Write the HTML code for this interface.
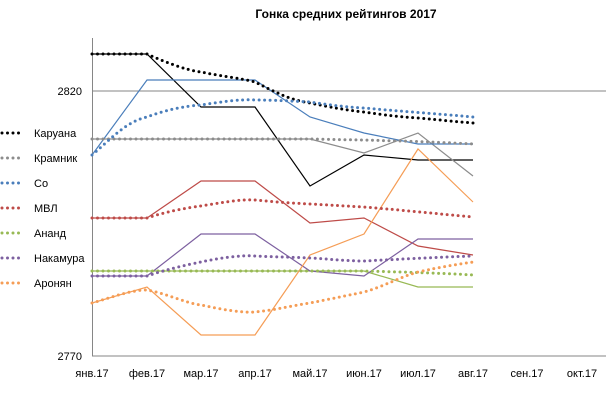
<!DOCTYPE html>
<html><head><meta charset="utf-8"><style>
body{margin:0;background:#fff;}
svg{display:block;font-family:"Liberation Sans",sans-serif;}
</style></head><body>
<svg width="606" height="400" viewBox="0 0 606 400">
<text x="346" y="18" text-anchor="middle" font-size="12" font-weight="bold" fill="#000">Гонка средних рейтингов 2017</text>
<line x1="92" y1="91" x2="606" y2="91" stroke="#868686" stroke-width="1"/>
<line x1="92" y1="356" x2="606" y2="356" stroke="#868686" stroke-width="1"/>
<line x1="92.5" y1="38" x2="92.5" y2="356" stroke="#868686" stroke-width="1"/>
<g font-size="11" fill="#000" text-anchor="end">
<text x="82" y="95">2820</text><text x="82" y="360">2770</text>
</g>
<g font-size="11" fill="#000" text-anchor="middle">
<text x="92" y="377">янв.17</text><text x="147" y="377">фев.17</text><text x="201" y="377">мар.17</text><text x="255" y="377">апр.17</text><text x="310" y="377">май.17</text><text x="364" y="377">июн.17</text><text x="418" y="377">июл.17</text><text x="473" y="377">авг.17</text><text x="527" y="377">сен.17</text><text x="582" y="377">окт.17</text>
</g>
<g fill="none" stroke-width="1.2">
<polyline stroke="#000" points="92,54 147,54 201,107 255,107 310,186 364,155 418,160 473,160"/>
<polyline stroke="#8c8c8c" points="92,139 147,139 201,139 255,139 310,139 364,153 418,133 473,176"/>
<polyline stroke="#4a7ebb" points="92,155 147,80 201,80 255,80 310,117 364,133 418,144 473,144"/>
<polyline stroke="#be4b48" points="92,218 147,218 201,181 255,181 310,223 364,218 418,246 473,255"/>
<polyline stroke="#98b954" points="92,271 147,271 201,271 255,271 310,271 364,271 418,287 473,287"/>
<polyline stroke="#7d60a0" points="92,276 147,276 201,234 255,234 310,271 364,276 418,239 473,239"/>
<polyline stroke="#f59d56" points="92,303 147,287 201,335 255,335 310,255 364,234 418,149 473,202"/>
</g>
<g fill="none" stroke-width="3" stroke-linecap="round" stroke-dasharray="0 5.5">
<path stroke="#000" d="M92,54 L147,54 C165,62 185,70 201,72 C220,76 240,78 255,82 C275,92 290,100 310,103 C330,107 345,110 364,112 C385,115 400,117 418,118 C440,120 460,122 473,123"/>
<path stroke="#8c8c8c" d="M92,139 L310,139 C360,140 420,141 473,144"/>
<path stroke="#4a7ebb" d="M92,155 C110,140 125,122 147,117 C165,110 185,106 201,105 C220,102 240,99 255,100 C275,100 290,101 310,102 C330,105 345,107 364,108 C385,110 440,114 473,117"/>
<path stroke="#be4b48" d="M92,218 L147,218 C165,212 185,208 201,206 C220,203 240,199 255,200 C275,202 290,203 310,204 C330,205 345,206 364,207 C390,209 440,214 473,217"/>
<path stroke="#98b954" d="M92,271 L364,271 C400,272 440,273 473,275"/>
<path stroke="#7d60a0" d="M92,276 L147,276 C165,270 185,265 201,262 C220,258 240,255 255,256 C275,257 290,257 310,258 C330,259 345,261 364,261 C385,260 440,257 473,256"/>
<path stroke="#f59d56" d="M92,303 C110,298 130,290 147,290 C165,293 185,303 201,305 C220,309 240,313 255,312 C275,310 290,306 310,303 C330,299 345,296 364,292 C385,286 400,277 418,272 C440,267 460,264 473,262"/>
</g>
<g stroke-width="3" stroke-linecap="round" stroke-dasharray="0 5.5">
<line x1="2" y1="133" x2="24" y2="133" stroke="#000"/>
<line x1="2" y1="158" x2="24" y2="158" stroke="#8c8c8c"/>
<line x1="2" y1="183" x2="24" y2="183" stroke="#4a7ebb"/>
<line x1="2" y1="208" x2="24" y2="208" stroke="#be4b48"/>
<line x1="2" y1="233" x2="24" y2="233" stroke="#98b954"/>
<line x1="2" y1="258" x2="24" y2="258" stroke="#7d60a0"/>
<line x1="2" y1="283" x2="24" y2="283" stroke="#f59d56"/>
</g>
<g font-size="11" fill="#000">
<text x="34" y="137">Каруана</text><text x="34" y="162">Крамник</text><text x="34" y="187">Со</text><text x="34" y="212">МВЛ</text><text x="34" y="237">Ананд</text><text x="34" y="262">Накамура</text><text x="34" y="287">Аронян</text>
</g>
</svg>
</body></html>
